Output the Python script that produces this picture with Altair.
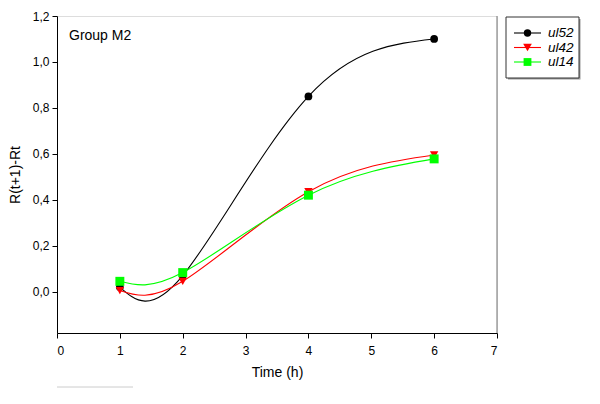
import altair as alt
import pandas as pd

time_h = [1, 2, 4, 6]
series_names = ["ul52", "ul42", "ul14"]
ul52 = [0.02, 0.07, 0.85, 1.10]
ul42 = [0.005, 0.045, 0.435, 0.595]
ul14 = [0.045, 0.083, 0.42, 0.578]
colors = ["#000000", "#ff0000", "#00ff00"]
shapes = ["circle", "triangle-down", "square"]
marker_sizes = [60, 80, 66]
x_ticks = [0, 1, 2, 3, 4, 5, 6, 7]
y_ticks = [0.0, 0.2, 0.4, 0.6, 0.8, 1.0, 1.2]

rows = []
for name, vals in zip(series_names, [ul52, ul42, ul14]):
    for t, v in zip(time_h, vals):
        rows.append({"time": t, "value": v, "series": name})
df = pd.DataFrame(rows)
one = pd.DataFrame({"k": [0]})

FONT = "Liberation Sans"

xscale = alt.Scale(domain=[0, 7], nice=False, zero=False)
yscale = alt.Scale(domain=[-0.18, 1.2], nice=False, zero=False)
cscale = alt.Scale(domain=series_names, range=colors)
sscale = alt.Scale(domain=series_names, range=shapes)
zscale = alt.Scale(domain=series_names, range=marker_sizes)

xaxis = alt.Axis(values=x_ticks, format="d", title="Time (h)", grid=False, tickSize=5, labelPadding=7,
                 labelFontSize=12, titleFontSize=14, titleFontWeight="normal", titlePadding=9,
                 domainColor="#000", tickColor="#000", labelColor="#000", titleColor="#000",
                 labelFont=FONT, titleFont=FONT)
yaxis = alt.Axis(values=y_ticks, title="R(t+1)-Rt", grid=False, tickSize=5, labelPadding=3,
                 labelExpr="replace(format(datum.value, '.1f'), '.', ',')",
                 labelFontSize=12, titleFontSize=14, titleFontWeight="normal", titlePadding=10,
                 domainColor="#000", tickColor="#000", labelColor="#000", titleColor="#000",
                 labelFont=FONT, titleFont=FONT)

layers = []
for i, name in enumerate(series_names):
    sub = alt.Chart(df).transform_filter(alt.datum.series == name)
    line = sub.mark_line(interpolate="natural", strokeWidth=1.1).encode(
        x=alt.X("time:Q", scale=xscale, axis=xaxis),
        y=alt.Y("value:Q", scale=yscale, axis=yaxis),
        color=alt.Color("series:N", scale=cscale, legend=None),
    )
    layers.append(line)
for i, name in enumerate(series_names):
    sub = alt.Chart(df).transform_filter(alt.datum.series == name)
    pts = sub.mark_point(filled=True, opacity=1).encode(
        x=alt.X("time:Q", scale=xscale),
        y=alt.Y("value:Q", scale=yscale),
        color=alt.Color("series:N", scale=cscale, legend=None),
        shape=alt.Shape("series:N", scale=sscale, legend=None),
        size=alt.Size("series:N", scale=zscale, legend=None),
    )
    layers.append(pts)

# frame: right border (gray)
right_rule = alt.Chart(one).mark_rule(color="#8a8a8a", strokeWidth=1.2).encode(
    x=alt.value(440), y=alt.value(0), y2=alt.value(317))
layers.append(right_rule)

# annotation
group_txt = alt.Chart(one).mark_text(text="Group M2", align="left", baseline="alphabetic",
                                     font=FONT, fontSize=14, fontWeight="normal",
                                     fill="#000").encode(
    x=alt.value(12), y=alt.value(24))
layers.append(group_txt)

# legend box with light shadow
legend_shadow = alt.Chart(one).mark_rect(fill="#9a9a9a").encode(
    x=alt.value(451), x2=alt.value(523.5), y=alt.value(3), y2=alt.value(63.5))
legend_box = alt.Chart(one).mark_rect(fill="white", stroke="#333", strokeWidth=1).encode(
    x=alt.value(449), x2=alt.value(522), y=alt.value(1), y2=alt.value(62))
layers += [legend_shadow, legend_box]
for i, name in enumerate(series_names):
    ly = 17 + i * 14.5
    leg_line = alt.Chart(one).mark_rule(color=colors[i], strokeWidth=1.1).encode(
        x=alt.value(457), x2=alt.value(484), y=alt.value(ly))
    leg_pt = alt.Chart(one).mark_point(filled=True, opacity=1, size=marker_sizes[i] - 5,
                                       shape=shapes[i], fill=colors[i], strokeWidth=0).encode(
        x=alt.value(470.5), y=alt.value(ly))
    leg_txt = alt.Chart(one).mark_text(text=name, align="left", baseline="middle", font=FONT,
                                       fontSize=13.5, fontStyle="italic", fontWeight="normal",
                                       fill="#000").encode(
        x=alt.value(491), y=alt.value(ly))
    layers += [leg_line, leg_pt, leg_txt]

# faint gray line under the x-axis title
artifact = alt.Chart(one).mark_rule(color="#cccccc", strokeWidth=1).encode(
    x=alt.value(0), x2=alt.value(76), y=alt.value(371))
layers.append(artifact)

chart = alt.layer(*layers).properties(
    width=440, height=317,
    autosize=alt.AutoSizeParams(type="none"),
    padding={"left": 49, "top": 8, "right": 90, "bottom": 60},
).configure_view(stroke="#000", strokeWidth=1).configure(background="white")

chart.save("out.html", embed_options={"renderer": "svg", "actions": False})
